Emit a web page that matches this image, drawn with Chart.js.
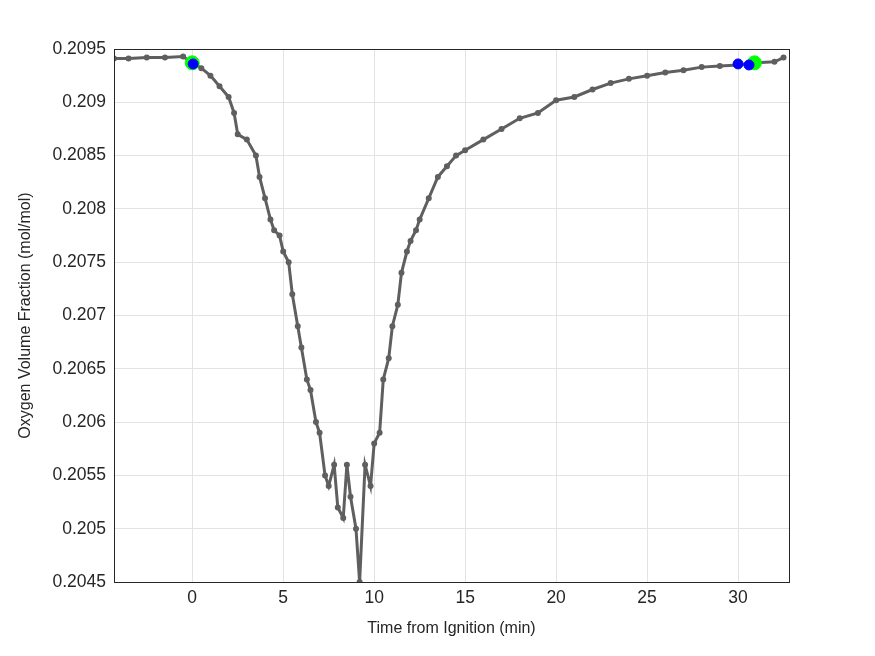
<!DOCTYPE html>
<html><head><meta charset="utf-8">
<script src="https://cdn.jsdelivr.net/npm/chart.js@4"></script>
<style>body{margin:0;background:#fff}</style></head>
<body><canvas id="c" width="875" height="656"></canvas>
<script>
const times=[-4.3,-3.5,-2.5,-1.5,-0.5,0,0.5,1,1.5,2,2.3,2.5,3,3.5,3.7,4,4.3,4.5,4.8,5,5.3,5.5,5.8,6,6.3,6.5,6.8,7,7.3,7.5,7.8,8,8.3,8.5,8.7,9,9.2,9.5,9.8,10,10.3,10.5,10.8,11,11.3,11.5,11.8,12,12.3,12.5,13,13.5,14,14.5,15,16,17,18,19,20,21,22,23,24,25,26,27,28,29,30,31,32,32.5];
const o2=[0.20941,0.20941,0.20942,0.20942,0.20943,0.20937,0.20932,0.20925,0.20915,0.20905,0.2089,0.2087,0.20865,0.2085,0.2083,0.2081,0.2079,0.2078,0.20775,0.2076,0.2075,0.2072,0.2069,0.2067,0.2064,0.2063,0.2060,0.2059,0.2055,0.2054,0.2056,0.2052,0.2051,0.2056,0.2053,0.2050,0.2045,0.2056,0.2054,0.2058,0.2059,0.2064,0.2066,0.2069,0.2071,0.2074,0.2076,0.2077,0.2078,0.2079,0.2081,0.2083,0.2084,0.2085,0.20855,0.20865,0.20875,0.20885,0.2089,0.20902,0.20905,0.20912,0.20918,0.20922,0.20925,0.20928,0.2093,0.20933,0.20934,0.20935,0.20937,0.20938,0.20942];
const greenPts=[{x:0,y:0.20937},{x:30.9,y:0.20937}];
const bluePts=[{x:0.05,y:0.20936},{x:30,y:0.20936},{x:30.6,y:0.20935}];
const xTicks=[0,5,10,15,20,25,30];
const border={id:'b',afterDraw(c){const a=c.chartArea,x=c.ctx;x.save();x.strokeStyle='#262626';x.lineWidth=1;x.strokeRect(a.left+0.5,a.top+0.5,a.right-a.left,a.bottom-a.top);x.restore();}};
const font={family:'"Liberation Sans", Arial',size:17.5};
new Chart(document.getElementById('c'),{
type:'scatter',
data:{datasets:[
{data:bluePts,backgroundColor:'#0000ff',borderColor:'#0000ff',pointRadius:5},
{data:greenPts,backgroundColor:'#00ff00',borderColor:'#00ff00',pointRadius:7},
{data:times.map((t,i)=>({x:t,y:o2[i]})),showLine:true,borderColor:'#5f5f5f',backgroundColor:'#5f5f5f',borderWidth:3,pointRadius:1.5}
]},
options:{responsive:false,animation:false,
layout:{padding:{top:49,right:86,left:12,bottom:14}},
plugins:{legend:{display:false},tooltip:{enabled:false}},
scales:{
x:{type:'linear',min:-4.3,max:32.8,
afterBuildTicks(s){s.ticks=xTicks.map(v=>({value:v}));},
afterFit(s){s.height=60;},
grid:{color:'#e3e3e3',drawTicks:false},border:{color:'#262626'},
ticks:{color:'#262626',font,padding:6},
title:{display:true,text:'Time from Ignition (min)',color:'#262626',font:{family:font.family,size:16},padding:{top:0}}},
y:{min:0.2045,max:0.2095,
afterBuildTicks(s){const t=[];for(let i=0;i<=10;i++)t.push({value:0.2045+i*0.0005});s.ticks=t;},
afterFit(s){s.width=102;},
grid:{color:'#e3e3e3',drawTicks:false},border:{color:'#262626'},
ticks:{color:'#262626',font,padding:8,callback:v=>String(parseFloat(v.toFixed(4)))},
title:{display:true,text:'Oxygen Volume Fraction (mol/mol)',color:'#262626',font:{family:font.family,size:16},padding:{bottom:0}}}
}},
plugins:[border]});
</script></body></html>
